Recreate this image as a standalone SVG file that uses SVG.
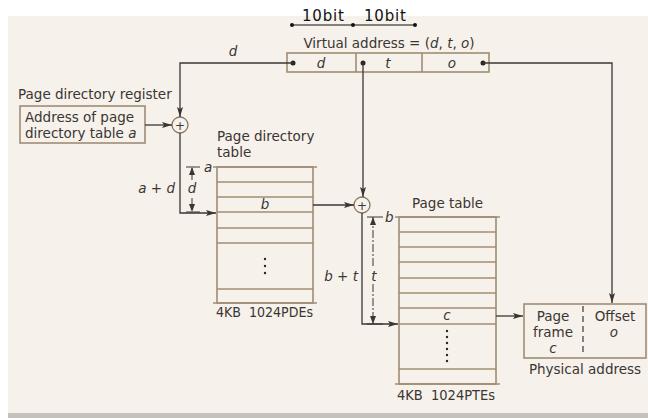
<svg xmlns="http://www.w3.org/2000/svg" width="648" height="418" viewBox="0 0 648 418">
<style>
text{font-family:"DejaVu Sans","Liberation Sans",Arial,sans-serif;font-size:13.5px;fill:#3a3632;white-space:pre}
.i{font-style:italic}
.box{fill:none;stroke:#a08c74;stroke-width:1.6}
.row{stroke:#a08c74;stroke-width:1.6}
.con{fill:none;stroke:#3a3632;stroke-width:1.3}
.dim{fill:none;stroke:#3a3632;stroke-width:1;stroke-dasharray:8 2 2 2}
.dot{fill:#2a2622}
.cir{fill:#f6f1ea;stroke:#8a7560;stroke-width:1.3}
.bit{font-family:"DejaVu Sans",sans-serif;font-size:15px;fill:#111;letter-spacing:0.8px}
</style>
<defs>
<marker id="ah" viewBox="0 0 10 6" refX="10" refY="3" markerWidth="10" markerHeight="6" markerUnits="userSpaceOnUse" orient="auto">
<path d="M0,0 L10,3 L0,6 L2,3 Z" fill="#3a3632"/>
</marker>
<marker id="dh" viewBox="0 0 8 6" refX="8" refY="3" markerWidth="8" markerHeight="6" markerUnits="userSpaceOnUse" orient="auto">
<path d="M0,0 L8,3 L0,6 Z" fill="#3a3632"/>
</marker>
</defs>
<rect x="0" y="0" width="648" height="418" fill="#ffffff"/>
<rect x="8" y="16" width="640" height="397" fill="#f6f1ea"/>
<rect x="8" y="413" width="640" height="5" fill="#c4c1bd"/>

<g id="bits">
<line x1="292" y1="25" x2="353" y2="25" stroke="#111" stroke-width="1.2"/>
<line x1="353" y1="25" x2="415" y2="25" stroke="#111" stroke-width="1.2"/>
<circle cx="292" cy="25" r="2" fill="#111"/><circle cx="353" cy="25" r="2" fill="#111"/><circle cx="415" cy="25" r="2" fill="#111"/>
<text class="bit" x="302" y="21">10bit</text>
<text class="bit" x="364" y="21">10bit</text>
</g>

<g id="virtual-address">
<text x="389" y="48" text-anchor="middle">Virtual address = (<tspan class="i">d</tspan>, <tspan class="i">t</tspan>, <tspan class="i">o</tspan>)</text>
<rect class="box" x="287" y="53" width="202" height="19"/>
<line class="row" x1="356" y1="53" x2="356" y2="72"/>
<line class="row" x1="422" y1="53" x2="422" y2="72"/>
<text class="i" x="321" y="68" text-anchor="middle">d</text>
<text class="i" x="388" y="68" text-anchor="middle">t</text>
<text class="i" x="452" y="68" text-anchor="middle">o</text>
<circle class="dot" cx="293" cy="63" r="2.5"/>
<circle class="dot" cx="363" cy="63" r="2.5"/>
<circle class="dot" cx="483" cy="63" r="2.5"/>
</g>

<g id="pdr">
<text x="18" y="99">Page directory register</text>
<rect class="box" x="20" y="106" width="125" height="37"/>
<text x="25" y="122">Address of page</text>
<text x="25" y="138">directory table <tspan class="i">a</tspan></text>
</g>

<g id="pd-table">
<text x="217" y="141">Page directory</text>
<text x="217" y="157">table</text>
<rect class="box" x="217" y="167" width="96" height="136"/>
<line class="row" x1="213" y1="167" x2="317" y2="167"/>
<line class="row" x1="217" y1="182" x2="313" y2="182"/>
<line class="row" x1="217" y1="197" x2="313" y2="197"/>
<line class="row" x1="217" y1="212" x2="313" y2="212"/>
<line class="row" x1="217" y1="228" x2="313" y2="228"/>
<line class="row" x1="217" y1="243" x2="313" y2="243"/>
<line class="row" x1="217" y1="289" x2="313" y2="289"/>
<line class="row" x1="213" y1="303" x2="317" y2="303"/>
<text class="i" x="265" y="209" text-anchor="middle">b</text>
<circle class="dot" cx="265" cy="259" r="1.2"/><circle class="dot" cx="265" cy="266" r="1.2"/><circle class="dot" cx="265" cy="273" r="1.2"/>
<text x="216" y="317" textLength="97" lengthAdjust="spacingAndGlyphs">4KB  1024PDEs</text>
</g>

<g id="page-table">
<text x="412" y="208">Page table</text>
<rect class="box" x="399" y="217" width="97" height="167"/>
<line class="row" x1="395" y1="217" x2="500" y2="217"/>
<line class="row" x1="399" y1="232" x2="496" y2="232"/>
<line class="row" x1="399" y1="247" x2="496" y2="247"/>
<line class="row" x1="399" y1="262" x2="496" y2="262"/>
<line class="row" x1="399" y1="278" x2="496" y2="278"/>
<line class="row" x1="399" y1="293" x2="496" y2="293"/>
<line class="row" x1="399" y1="308" x2="496" y2="308"/>
<line class="row" x1="399" y1="324" x2="496" y2="324"/>
<line class="row" x1="399" y1="369" x2="496" y2="369"/>
<line class="row" x1="395" y1="384" x2="500" y2="384"/>
<text class="i" x="447" y="320" text-anchor="middle">c</text>
<circle class="dot" cx="447" cy="331" r="1.2"/><circle class="dot" cx="447" cy="337" r="1.2"/><circle class="dot" cx="447" cy="343" r="1.2"/><circle class="dot" cx="447" cy="349" r="1.2"/><circle class="dot" cx="447" cy="355" r="1.2"/><circle class="dot" cx="447" cy="361" r="1.2"/>
<text x="397" y="400" textLength="98" lengthAdjust="spacingAndGlyphs">4KB  1024PTEs</text>
</g>

<g id="physical-address">
<rect class="box" x="524" y="304" width="122" height="54"/>
<line x1="583" y1="306" x2="583" y2="356" stroke="#3a3632" stroke-width="1.2" stroke-dasharray="6 4"/>
<text x="553" y="321" text-anchor="middle">Page</text>
<text x="553" y="337" text-anchor="middle">frame</text>
<text class="i" x="553" y="353" text-anchor="middle">c</text>
<text x="615" y="321" text-anchor="middle">Offset</text>
<text class="i" x="614" y="337" text-anchor="middle">o</text>
<text x="585" y="374" text-anchor="middle">Physical address</text>
</g>

<g id="adder1"><circle class="cir" cx="180" cy="125" r="8"/><text x="180" y="129.5" text-anchor="middle" style="font-size:12px">+</text></g>
<g id="adder2"><circle class="cir" cx="362" cy="205" r="8"/><text x="362" y="209.5" text-anchor="middle" style="font-size:12px">+</text></g>

<g id="connectors">
<path class="con" d="M293,63 H180 V117" marker-end="url(#ah)"/>
<text class="i" x="233" y="56" text-anchor="middle">d</text>
<path class="con" d="M145,125 H172" marker-end="url(#ah)"/>
<path class="con" d="M180,133 V213 H216" marker-end="url(#ah)"/>
<path class="con" d="M313,205 H354" marker-end="url(#ah)"/>
<path class="con" d="M363,63 V197" marker-end="url(#ah)"/>
<path class="con" d="M362,213 V324 H398" marker-end="url(#ah)"/>
<path class="con" d="M496,316 H523" marker-end="url(#ah)"/>
<path class="con" d="M483,63 H612 V303" marker-end="url(#ah)"/>

<line x1="186" y1="167" x2="200" y2="167" stroke="#3a3632" stroke-width="1"/>
<path class="dim" d="M192,180 V167" marker-end="url(#dh)"/>
<path class="dim" d="M192,198 V212" marker-end="url(#dh)"/>
<line x1="186" y1="212" x2="200" y2="212" stroke="#3a3632" stroke-width="1"/>
<text class="i" x="204" y="172">a</text>
<text class="i" x="192" y="193" text-anchor="middle">d</text>
<text class="i" x="175" y="193" text-anchor="end">a + d</text>

<line x1="367" y1="217" x2="383" y2="217" stroke="#3a3632" stroke-width="1"/>
<path class="dim" d="M373,266 V217" marker-end="url(#dh)"/>
<path class="dim" d="M373,284 V324" marker-end="url(#dh)"/>
<line x1="367" y1="324" x2="383" y2="324" stroke="#3a3632" stroke-width="1"/>
<text class="i" x="385" y="222">b</text>
<text class="i" x="374" y="281" text-anchor="middle">t</text>
<text class="i" x="358" y="281" text-anchor="end">b + t</text>
</g>
</svg>
